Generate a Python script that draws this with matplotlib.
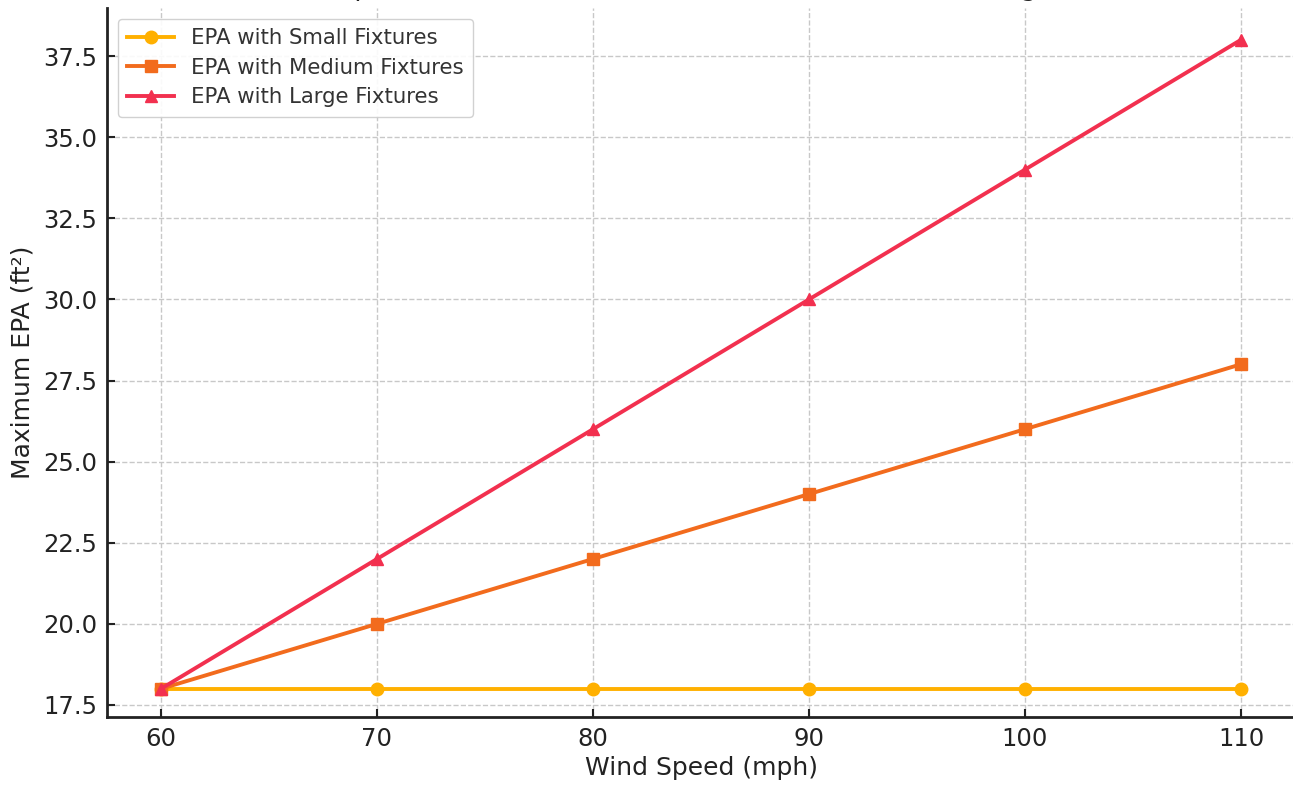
import matplotlib.pyplot as plt

# Data__________________________________________________________________________
wind_speed = [60, 70, 80, 90, 100, 110]
epa_small = [18, 18, 18, 18, 18, 18]
epa_medium = [18, 20, 22, 24, 26, 28]
epa_large = [18, 22, 26, 30, 34, 38]

W, H = 1293, 787
fig = plt.figure(figsize=(W / 100, H / 100), dpi=100)
# axes run slightly past the top/right of the canvas (reference is cropped)
ax = fig.add_axes([107 / W, (H - 717) / H, (1295 - 107) / W, (717 - 8) / H])

ax.plot(wind_speed, epa_small, color='#FFB000', marker='o', lw=2.8, ms=9,
        label='EPA with Small Fixtures')
ax.plot(wind_speed, epa_medium, color='#F26B1D', marker='s', lw=2.8, ms=9,
        label='EPA with Medium Fixtures')
ax.plot(wind_speed, epa_large, color='#F2304F', marker='^', lw=2.8, ms=9,
        label='EPA with Large Fixtures')

ax.set_xlim(57.5, 112.5)
ax.set_ylim(17.13, 38.98)
ax.set_yticks([17.5, 20.0, 22.5, 25.0, 27.5, 30.0, 32.5, 35.0, 37.5])
ax.set_xticks(wind_speed)

ax.grid(True, ls='--', color='#c8c8c8', lw=1)
ax.tick_params(direction='in', labelsize=17.5, colors='#222222', width=1.5,
               length=6, pad=7)
for s in ax.spines.values():
    s.set_linewidth(2)
    s.set_color('#222222')
ax.spines['top'].set_visible(False)
ax.spines['right'].set_visible(False)

ax.set_xlabel('Wind Speed (mph)', fontsize=18, color='#222222', labelpad=4)
ax.set_ylabel('Maximum EPA (ft²)', fontsize=18, color='#222222', labelpad=6)
# title sits mostly above the cropped canvas, only descenders show
ttl = ax.set_title('Comparison of Maximum EPA for Different Fixture Sizing',
                   fontsize=19, color='#222222', pad=9.5)
ttl.set_x(0.47)

leg = ax.legend(loc='upper left', fontsize=15.3, framealpha=0.9,
                borderpad=0.45, labelspacing=0.45, handlelength=2.2)
for t in leg.get_texts():
    t.set_color('#333333')

fig.savefig('out.png', dpi=100)
